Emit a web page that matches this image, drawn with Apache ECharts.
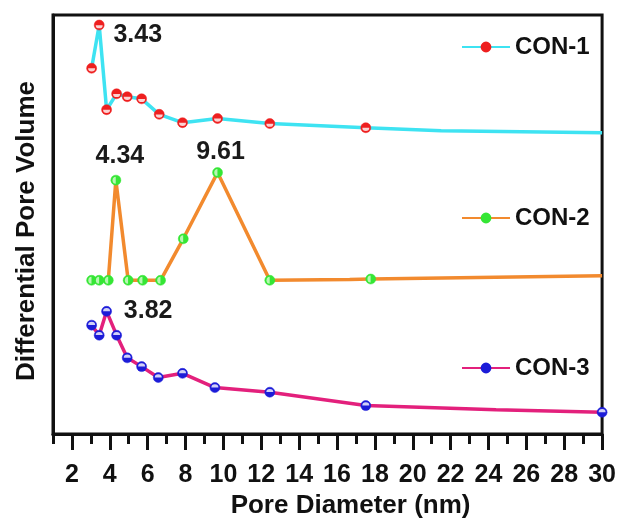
<!DOCTYPE html>
<html>
<head>
<meta charset="utf-8">
<script src="https://cdn.jsdelivr.net/npm/echarts@6/dist/echarts.min.js"></script>
<style>html,body{margin:0;padding:0;background:#fff;}#c{width:619px;height:524px;}</style>
</head>
<body>
<div id="c"></div>
<script>
// ---- data (y in arbitrary units) ----
const seriesNames = ['CON-1', 'CON-2', 'CON-3'];
const con1X = [3.04, 3.44, 3.83, 4.36, 4.92, 5.68, 6.61, 7.84, 9.69, 12.45, 17.52, 21.5, 30];
const con1Y = [87.3, 97.6, 77.4, 81.2, 80.5, 80.0, 76.3, 74.3, 75.3, 74.1, 73.1, 72.4, 71.9];
const con1Unmarked = [11, 12];
const con2X = [3.04, 3.44, 3.92, 4.32, 4.97, 5.73, 6.68, 7.88, 9.69, 12.45, 16.67, 17.78, 30];
const con2Y = [36.7, 36.7, 36.7, 60.6, 36.7, 36.7, 36.7, 46.6, 62.4, 36.7, 36.9, 37.0, 37.8];
const con2Unmarked = [10, 12];
const con3X = [3.04, 3.44, 3.83, 4.36, 4.92, 5.68, 6.56, 7.84, 9.55, 12.45, 17.52, 24.4, 30];
const con3Y = [26.0, 23.6, 29.3, 23.6, 18.2, 16.1, 13.5, 14.5, 11.1, 10.0, 6.8, 5.8, 5.2];
const con3Unmarked = [11];
const peakLabels = { 'CON-1': [[1, '3.43']], 'CON-2': [[3, '4.34'], [8, '9.61']], 'CON-3': [[2, '3.82']] };
const xMajorTicks = [2, 4, 6, 8, 10, 12, 14, 16, 18, 20, 22, 24, 26, 28, 30];
const xMinorTicks = [1, 3, 5, 7, 9, 11, 13, 15, 17, 19, 21, 23, 25, 27, 29];
const xTitle = 'Pore Diameter (nm)';
const yTitle = 'Differential Pore Volume';

// ---- styling ----
const FONT = "'Liberation Sans', Arial, sans-serif";
const lineColors = ['#3ee3f2', '#f28a2e', '#e3207c'];
const markerColors = ['#ee1f1f', '#35e635', '#1c1cd8'];
const halfColors = ['#ffffff', '#d8fbd2', '#ffffff'];
const halfPaths = [
  'path://M0,0 A1,1 0 0 0 2,0 Z',
  'path://M1,0 A1,1 0 0 0 1,2 Z',
  'path://M0,1 A1,1 0 0 1 2,1 Z'
];
const halfSizes = [[7, 3.2], [3.2, 7], [7, 3.2]];
const halfOffsets = [[0, 1.7], [-1.7, 0], [0, -1.7]];
const labelStyles = {
  '3.43': { position: 'right', distance: 9, offset: [0, 10] },
  '4.34': { position: 'top', distance: 6, offset: [4, 0] },
  '9.61': { position: 'top', distance: 3, offset: [3, 0] },
  '3.82': { position: 'right', distance: 12, offset: [0, 0] }
};
const legendTops = [30, 201, 351];

const xs = [con1X, con2X, con3X];
const ys = [con1Y, con2Y, con3Y];
const unmarked = [con1Unmarked, con2Unmarked, con3Unmarked];

const series = [];
seriesNames.forEach((name, s) => {
  const labMap = {};
  (peakLabels[name] || []).forEach(([i, t]) => { labMap[i] = t; });
  const data = xs[s].map((x, i) => {
    const item = { value: [x, ys[s][i]] };
    if (unmarked[s].indexOf(i) >= 0) item.symbol = 'none';
    if (labMap[i] !== undefined) {
      const st = labelStyles[labMap[i]];
      item.label = {
        show: true, formatter: labMap[i], position: st.position, distance: st.distance,
        offset: st.offset, fontSize: 25, fontWeight: 'bold', color: '#1a1a1a', fontFamily: FONT
      };
    }
    return item;
  });
  series.push({
    name: name, type: 'line', data: data, symbol: 'circle', symbolSize: 10,
    lineStyle: { color: lineColors[s], width: 3.5 },
    itemStyle: { color: markerColors[s], borderColor: markerColors[s], borderWidth: 0.5 },
    z: 2, clip: false
  });
  series.push({
    name: name + ' marks', type: 'scatter',
    data: xs[s].map((x, i) => [x, ys[s][i]]).filter((d, i) => unmarked[s].indexOf(i) < 0),
    symbol: halfPaths[s], symbolSize: halfSizes[s], symbolOffset: halfOffsets[s], symbolKeepAspect: false,
    itemStyle: { color: halfColors[s] }, z: 3, silent: true
  });
});

const legends = seriesNames.map((n, s) => ({
  data: [n], left: 456, top: legendTops[s], orient: 'vertical',
  itemWidth: 48, itemHeight: 11,
  textStyle: { fontSize: 24, fontWeight: 'bold', color: '#111', fontFamily: FONT }
}));

const chart = echarts.init(document.getElementById('c'), null, { renderer: 'canvas' });
chart.setOption({
  animation: false,
  backgroundColor: '#fff',
  legend: legends,
  grid: { left: 53, right: 16, top: 15, bottom: 88, show: true, borderColor: '#111', borderWidth: 3, containLabel: false },
  xAxis: [
    {
      type: 'value', min: 1, max: 30, position: 'bottom',
      name: xTitle, nameLocation: 'middle', nameGap: 58,
      nameTextStyle: { fontSize: 26, fontWeight: 'bold', color: '#111', fontFamily: FONT, padding: [0, 0, 0, 46] },
      axisLine: { show: true, lineStyle: { color: '#111', width: 3 } },
      axisTick: { show: true, inside: false, length: 16, customValues: xMajorTicks, lineStyle: { color: '#111', width: 3 } },
      axisLabel: { show: true, customValues: xMajorTicks, margin: 29, fontSize: 25, fontWeight: 'bold', color: '#111', fontFamily: FONT },
      splitLine: { show: false }
    },
    {
      type: 'value', min: 1, max: 30, position: 'bottom',
      axisLine: { show: false },
      axisTick: { show: true, inside: false, length: 10, customValues: xMinorTicks, lineStyle: { color: '#111', width: 3 } },
      axisLabel: { show: false },
      splitLine: { show: false }
    }
  ],
  yAxis: {
    type: 'value', min: 0, max: 100,
    name: yTitle, nameLocation: 'middle', nameGap: 13, nameRotate: 90,
    nameTextStyle: { fontSize: 26, fontWeight: 'bold', color: '#111', fontFamily: FONT, padding: [0, 13, 0, 0] },
    axisLine: { show: true, lineStyle: { color: '#111', width: 3 } },
    axisTick: { show: false }, axisLabel: { show: false }, splitLine: { show: false }
  },
  series: series
});
</script>
</body>
</html>
